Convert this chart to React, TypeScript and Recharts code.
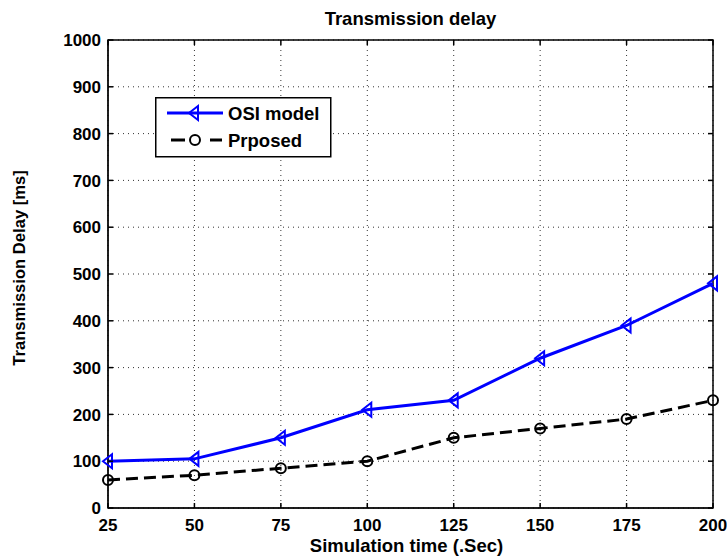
import React from "react";
import { LineChart, Line, XAxis, YAxis, CartesianGrid, ReferenceArea } from "recharts";

const simTime = [25, 50, 75, 100, 125, 150, 175, 200];
const osiDelay = [100, 105, 150, 210, 230, 320, 390, 480];
const proposedDelay = [60, 70, 85, 100, 150, 170, 190, 230];
const xTicks = [25, 50, 75, 100, 125, 150, 175, 200];
const yTicks = [0, 100, 200, 300, 400, 500, 600, 700, 800, 900, 1000];
const seriesNames = ["OSI model", "Prposed"];
const titleText = "Transmission delay";
const xLabel = "Simulation time (.Sec)";
const yLabel = "Transmission Delay [ms]";

const data = simTime.map((t, i) => ({ t, osi: osiDelay[i], prop: proposedDelay[i] }));

const FONT = '"Liberation Sans", Arial, sans-serif';
const BLUE = "#0000FF";
const PLOT_W = 605;
const PLOT_H = 468;
const TICK_LEN = 5;

const Tri = (props: any) => {
  const { cx, cy } = props;
  if (cx == null || cy == null) return null;
  return (
    <path
      d={`M${cx - 5},${cy} L${cx + 4},${cy - 7} L${cx + 4},${cy + 7} Z`}
      fill="none"
      stroke={BLUE}
      strokeWidth={2}
    />
  );
};

const Circ = (props: any) => {
  const { cx, cy } = props;
  if (cx == null || cy == null) return null;
  return <circle cx={cx} cy={cy} r={5} fill="none" stroke="#000" strokeWidth={2} />;
};

const XTick = (props: any) => {
  const { x, y, payload } = props;
  const axisY = y - 11;
  return (
    <g>
      <line x1={x} y1={axisY} x2={x} y2={axisY - TICK_LEN} stroke="#000" strokeWidth={1.5} />
      <line x1={x} y1={axisY - PLOT_H} x2={x} y2={axisY - PLOT_H + TICK_LEN} stroke="#000" strokeWidth={1.5} />
      <text x={x} y={y} dy="0.71em" textAnchor="middle" fontSize={17} fontWeight="bold" fontFamily={FONT} fill="#000">
        {payload.value}
      </text>
    </g>
  );
};

const YTick = (props: any) => {
  const { x, y, payload } = props;
  const axisX = x + 7;
  return (
    <g>
      <line x1={axisX} y1={y} x2={axisX + TICK_LEN} y2={y} stroke="#000" strokeWidth={1.5} />
      <line x1={axisX + PLOT_W} y1={y} x2={axisX + PLOT_W - TICK_LEN} y2={y} stroke="#000" strokeWidth={1.5} />
      <text x={x} y={y} dy="0.36em" textAnchor="end" fontSize={17} fontWeight="bold" fontFamily={FONT} fill="#000">
        {payload.value}
      </text>
    </g>
  );
};

export default function App() {
  return (
    <div style={{ position: "absolute", left: 0, top: 0, width: 727, height: 558, background: "#fff", fontFamily: FONT }}>
      <LineChart
        width={727}
        height={558}
        data={data}
        margin={{ top: 40, right: 14, left: 0, bottom: 0 }}
      >
        <CartesianGrid stroke="#333" strokeDasharray="1 4" strokeWidth={1} vertical horizontal />
        <XAxis
          dataKey="t"
          type="number"
          domain={[25, 200]}
          ticks={xTicks}
          height={50}
          stroke="#000"
          tickLine={false}
          tickSize={3}
          tickMargin={8}
          tick={<XTick />}
          interval={0}
        />
        <YAxis
          type="number"
          domain={[0, 1000]}
          ticks={yTicks}
          width={108}
          stroke="#000"
          tickLine={false}
          tickSize={3}
          tickMargin={4}
          tick={<YTick />}
          interval={0}
        />
        <ReferenceArea x1={25} x2={200} y1={0} y2={1000} fill="none" stroke="#000" strokeWidth={1.5} ifOverflow="visible" />
        <Line
          dataKey="osi"
          stroke={BLUE}
          strokeWidth={3}
          dot={<Tri />}
          isAnimationActive={false}
        />
        <Line
          dataKey="prop"
          stroke="#000"
          strokeWidth={3}
          strokeDasharray="12 6"
          dot={<Circ />}
          isAnimationActive={false}
        />
      </LineChart>
      <div style={{ position: "absolute", left: 108, width: 605, top: 8, textAlign: "center", fontSize: 18.5, fontWeight: "bold", whiteSpace: "nowrap" }}>
        {titleText}
      </div>
      <div style={{ position: "absolute", left: 104, width: 605, top: 535, textAlign: "center", fontSize: 18.5, fontWeight: "bold", whiteSpace: "nowrap" }}>
        {xLabel}
      </div>
      <div
        style={{
          position: "absolute",
          left: 20,
          top: 268,
          transform: "translate(-50%, -50%) rotate(-90deg)",
          whiteSpace: "nowrap",
          fontSize: 16.6,
          fontWeight: "bold",
          lineHeight: "20px",
        }}
      >
        {yLabel}
      </div>
      <svg style={{ position: "absolute", left: 155, top: 97 }} width={177} height={61}>
        <rect x={0.75} y={0.75} width={175} height={59} fill="#fff" stroke="#000" strokeWidth={1.5} />
        <line x1={12} y1={16} x2={68} y2={16} stroke={BLUE} strokeWidth={3} />
        <Tri cx={39} cy={16} />
        <text x={73} y={22.5} fontSize={18.5} fontWeight="bold" fontFamily={FONT} fill="#000">{seriesNames[0]}</text>
        <line x1={16} y1={43} x2={30} y2={43} stroke="#000" strokeWidth={3} />
        <line x1={55} y1={43} x2={67} y2={43} stroke="#000" strokeWidth={3} />
        <Circ cx={40} cy={43} />
        <text x={73} y={49.5} fontSize={18.5} fontWeight="bold" fontFamily={FONT} fill="#000">{seriesNames[1]}</text>
      </svg>
    </div>
  );
}
